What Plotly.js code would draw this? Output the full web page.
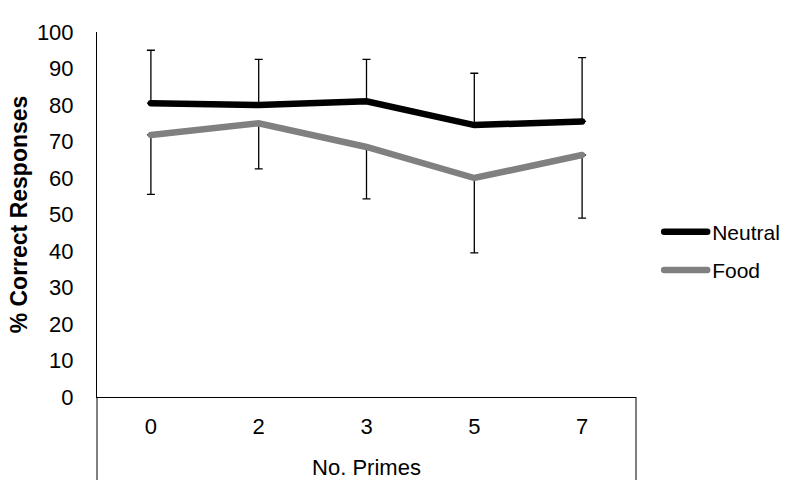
<!DOCTYPE html>
<html>
<head>
<meta charset="utf-8">
<script src="https://cdn.plot.ly/plotly-3.0.1.min.js"></script>
<style>
  body { margin: 0; background: #fff; }
  #chart { width: 792px; height: 480px; }
  .scatterlayer path.js-line, .legend path.js-line { stroke-linecap: round !important; }
</style>
</head>
<body>
<div id="chart"></div>
<script>
// Data
const categories = ['0', '2', '3', '5', '7'];
const neutralValues = [80.5, 80.0, 81.0, 74.5, 75.5];
const neutralErrUp = [14.5, 12.5, 11.5, 14.2, 17.5];
const foodValues = [71.8, 75.0, 68.5, 60.0, 66.3];
const foodErrDown = [16.3, 12.5, 14.2, 20.5, 17.3];
const zeros = [0, 0, 0, 0, 0];

const font = 'Liberation Sans, Arial, sans-serif';

const traces = [
  {
    type: 'scatter', mode: 'lines', name: 'Neutral', legendgroup: 'n',
    x: categories, y: neutralValues,
    line: { color: '#000000', width: 6.5 },
    error_y: { type: 'data', symmetric: false, array: neutralErrUp, arrayminus: zeros,
               color: '#000000', thickness: 1.3, width: 4 }
  },
  {
    type: 'scatter', mode: 'lines', name: 'Food', legendgroup: 'f',
    x: categories, y: foodValues,
    line: { color: '#808080', width: 6.5 },
    error_y: { type: 'data', symmetric: false, array: zeros, arrayminus: foodErrDown,
               color: '#000000', thickness: 1.3, width: 4 }
  }
];

const layout = {
  width: 792, height: 480,
  margin: { l: 97, r: 156, t: 32, b: 83, autoexpand: false },
  paper_bgcolor: '#ffffff', plot_bgcolor: '#ffffff',
  font: { family: font, size: 22, color: '#000000' },
  showlegend: true,
  legend: {
    x: 1.043, xanchor: 'left', y: 0.4, yanchor: 'middle',
    traceorder: 'grouped', tracegroupgap: 8, itemwidth: 43,
    font: { family: font, size: 21, color: '#000000' },
    bgcolor: 'rgba(0,0,0,0)'
  },
  xaxis: {
    type: 'category', range: [-0.5, 4.5],
    showgrid: false, zeroline: false,
    showline: true, linecolor: '#000000', linewidth: 1,
    ticks: '', ticklabelstandoff: 10,
    tickfont: { family: font, size: 22, color: '#000000' },
    title: { text: 'No. Primes', standoff: 22, font: { family: font, size: 22, color: '#000000' } },
    automargin: false, fixedrange: true
  },
  yaxis: {
    range: [0, 100], dtick: 10, tick0: 0,
    showgrid: false, zeroline: false,
    showline: true, linecolor: '#000000', linewidth: 1,
    ticks: '', ticklabelstandoff: 18,
    tickfont: { family: font, size: 22, color: '#000000' },
    title: { text: '<b>% Correct Responses</b>', standoff: 2, font: { family: font, size: 23, color: '#000000' } },
    automargin: false, fixedrange: true
  },
  shapes: [
    { type: 'line', xref: 'paper', yref: 'paper', x0: 0, x1: 0, y0: 0, y1: -0.25,
      line: { color: '#000000', width: 1 } },
    { type: 'line', xref: 'paper', yref: 'paper', x0: 1, x1: 1, y0: 0, y1: -0.25,
      line: { color: '#000000', width: 1 } }
  ]
};

Plotly.newPlot('chart', traces, layout, { displayModeBar: false, staticPlot: true });
</script>
</body>
</html>
